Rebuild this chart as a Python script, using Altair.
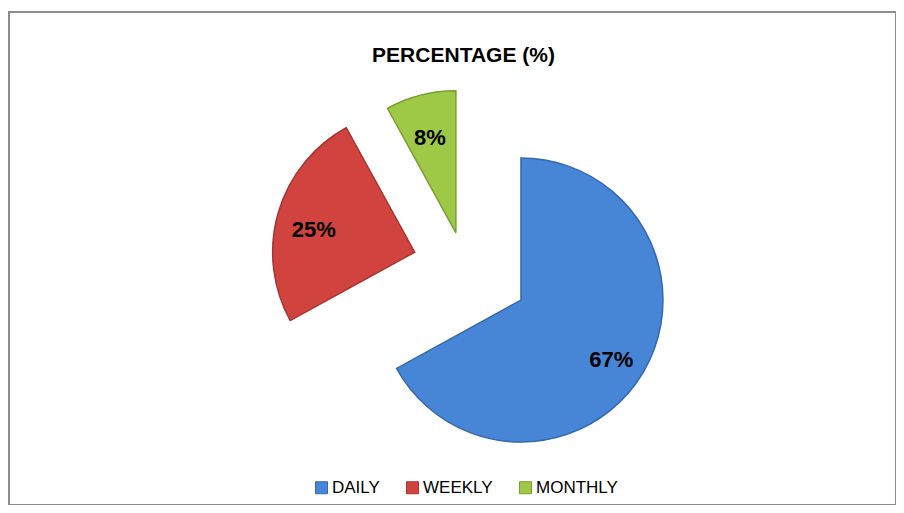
import math
import altair as alt
import pandas as pd

# ---- data ----
categories = ["DAILY", "WEEKLY", "MONTHLY"]
values = [67, 25, 8]

# ---- style ----
fill_colors = ["#4785d6", "#d0433f", "#9dc946"]
edge_colors = ["#3568ad", "#a73430", "#789f30"]
explode_px = [65.5, 52, 35]   # how far each slice is pulled out
W, H = 887, 493               # plot area
CX, CY = 455.6, 254.7         # pie centre in the plot area
R = 142                       # pie radius
LR = 105                      # label distance from slice centre
FONT = "Liberation Sans"

df = pd.DataFrame({
    "cat": categories,
    "value": values,
    "order": list(range(len(categories))),
    "ex": explode_px,
})

base = (
    alt.Chart(df)
    .transform_window(cum="sum(value)", sort=[alt.SortField("order")], frame=[None, 0])
    .transform_joinaggregate(total="sum(value)")
    .transform_calculate(
        start="datum.cum - datum.value",
        end="datum.cum",
        mid="2*PI*(datum.cum - datum.value/2)/datum.total",
    )
    .transform_calculate(
        px=f"{CX} + datum.ex*sin(datum.mid)",
        py=f"{CY} - datum.ex*cos(datum.mid)",
        label="datum.value + '%'",
    )
    .transform_calculate(
        lx=f"datum.px + {LR}*sin(datum.mid)",
        ly=f"datum.py - {LR}*cos(datum.mid)",
    )
)

arcs = base.mark_arc(radius=R, strokeWidth=1.5).encode(
    x=alt.X("px:Q", scale=None, axis=None),
    y=alt.Y("py:Q", scale=None, axis=None),
    theta=alt.Theta("start:Q", scale=alt.Scale(domain=[0, 100]), stack=False),
    theta2="end:Q",
    color=alt.Color(
        "cat:N",
        scale=alt.Scale(domain=categories, range=fill_colors),
        sort=categories,
        legend=alt.Legend(
            orient="none",
            legendX=304,
            legendY=467,
            direction="horizontal",
            title=None,
            symbolType="square",
            symbolSize=144,
            symbolStrokeWidth=1,
            labelFont=FONT,
            labelFontSize=17,
            labelColor="#000000",
            labelOffset=2,
            columnPadding=24,
            padding=0,
        ),
    ),
    stroke=alt.Stroke(
        "cat:N",
        scale=alt.Scale(domain=categories, range=edge_colors),
        legend=None,
    ),
)

labels = base.mark_text(
    font=FONT, fontSize=22, fontWeight="bold", color="#000000",
    align="center", baseline="middle", dy=7,
).encode(
    x=alt.X("lx:Q", scale=None, axis=None),
    y=alt.Y("ly:Q", scale=None, axis=None),
    text="label:N",
)

chart = (
    alt.layer(arcs, labels)
    .properties(
        width=W,
        height=H,
        autosize=alt.AutoSizeParams(type="none"),
        padding={"left": 1, "top": 4, "right": 0, "bottom": 0},
        title=alt.TitleParams(
            "PERCENTAGE (%)",
            font=FONT,
            fontSize=21,
            fontWeight="bold",
            color="#000000",
            anchor="middle",
            baseline="alphabetic",
            offset=-71,
            dx=11,
        ),
    )
    .configure_view(stroke="#8c8c8c", strokeWidth=2)
)

chart.save("out.html", embed_options={"renderer": "svg", "actions": False})
